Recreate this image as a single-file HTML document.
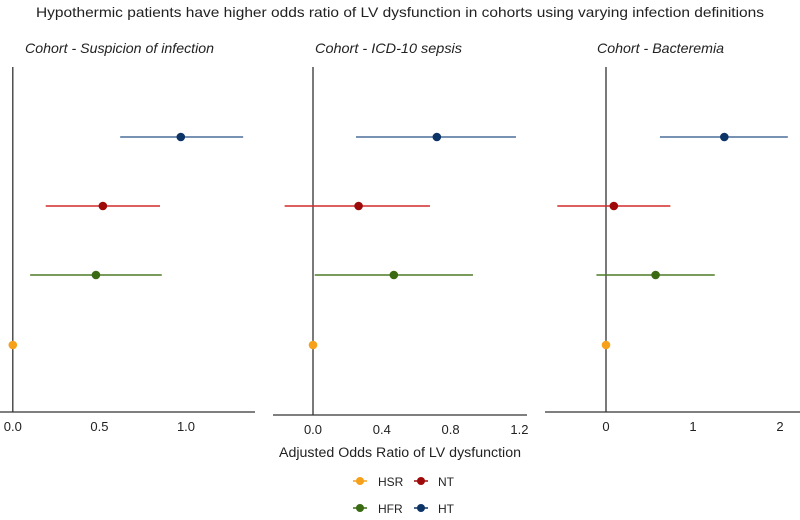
<!DOCTYPE html>
<html><head><meta charset="utf-8"><style>
body{margin:0;background:#fff}
svg text{font-family:"Liberation Sans",sans-serif;fill:#222}
</style></head><body>
<svg id="c" width="800" height="515" xmlns="http://www.w3.org/2000/svg">
<text x="400" y="17" text-anchor="middle" font-size="14" textLength="728" lengthAdjust="spacingAndGlyphs">Hypothermic patients have higher odds ratio of LV dysfunction in cohorts using varying infection definitions</text>
<text x="400" y="457" text-anchor="middle" font-size="13.5" textLength="242" lengthAdjust="spacingAndGlyphs">Adjusted Odds Ratio of LV dysfunction</text>
<g>
<g><line x1="353" x2="367" y1="481" y2="481" stroke="#f7a11a" stroke-width="1.5"/><circle cx="360" cy="481" r="4" fill="#f7a11a"/><text x="378" y="486" font-size="12">HSR</text></g>
<g><line x1="414" x2="428" y1="481" y2="481" stroke="#9e0a0a" stroke-width="1.5"/><circle cx="421" cy="481" r="4" fill="#9e0a0a"/><text x="438" y="486" font-size="12">NT</text></g>
<g><line x1="353" x2="367" y1="508" y2="508" stroke="#3a6a12" stroke-width="1.5"/><circle cx="360" cy="508" r="4" fill="#3a6a12"/><text x="378" y="513" font-size="12">HFR</text></g>
<g><line x1="414" x2="428" y1="508" y2="508" stroke="#0d3466" stroke-width="1.5"/><circle cx="421" cy="508" r="4" fill="#0d3466"/><text x="438" y="513" font-size="12">HT</text></g>
</g>
</svg>
<script>
const groups = ["HT","NT","HFR","HSR"];
const colors = ["#0d3466","#9e0a0a","#3a6a12","#f7a11a"];
const lineColors = ["#4a6f99","#d42a2a","#4d7a26","#f7a11a"];
const panelTitles = ["Cohort - Suspicion of infection","Cohort - ICD-10 sepsis","Cohort - Bacteremia"];
const est1 = [0.97,0.52,0.48,0]; const lo1 = [0.62,0.19,0.10,0]; const hi1 = [1.33,0.85,0.86,0];
const est2 = [0.72,0.265,0.47,0]; const lo2 = [0.25,-0.165,0.01,0]; const hi2 = [1.18,0.68,0.93,0];
const est3 = [1.36,0.09,0.57,0]; const lo3 = [0.62,-0.56,-0.11,0]; const hi3 = [2.09,0.74,1.25,0];
const ticks1 = [0,0.5,1.0]; const tickLabels1 = ["0.0","0.5","1.0"];
const ticks2 = [0,0.4,0.8,1.2]; const tickLabels2 = ["0.0","0.4","0.8","1.2"];
const ticks3 = [0,1,2]; const tickLabels3 = ["0","1","2"];

const svg=document.getElementById('c');
const NS="http://www.w3.org/2000/svg";
function mk(t,a){const e=document.createElementNS(NS,t);for(const k in a)e.setAttribute(k,a[k]);svg.appendChild(e);return e;}
const panels=[
 {z:12.8,s:173.2,ax0:0,ax1:255,ay:412,tx:25,tw:189,est:est1,lo:lo1,hi:hi1,ticks:ticks1,tl:tickLabels1},
 {z:313,s:172,ax0:273,ax1:527,ay:415,tx:315,tw:147,est:est2,lo:lo2,hi:hi2,ticks:ticks2,tl:tickLabels2},
 {z:606,s:87,ax0:545,ax1:800,ay:412,tx:597,tw:127,est:est3,lo:lo3,hi:hi3,ticks:ticks3,tl:tickLabels3}];
const rowY=[137,206,275,345];
function yPos(i){return rowY[i];}
panels.forEach((p,pi)=>{
 const x=v=>p.z+v*p.s;
 const t=mk('text',{x:p.tx,y:53,'font-size':14,'font-style':'italic',textLength:p.tw,lengthAdjust:'spacingAndGlyphs'});t.textContent=panelTitles[pi];
 
 
 const zl=mk('line',{x1:x(0),x2:x(0),y1:67,y2:p.ay,stroke:'#333','stroke-width':1.3});
 
 
 const al=mk('line',{x1:p.ax0,x2:p.ax1,y1:p.ay,y2:p.ay,stroke:'#333','stroke-width':1.3});
 
 
 p.ticks.forEach((v,i)=>{const tt=mk('text',{x:x(v),y:p.ay+19,'font-size':13,'text-anchor':'middle',fill:'#444'});tt.textContent=p.tl[i];
  
  });
 groups.forEach((g,i)=>{
  if(p.hi[i]!==p.lo[i]){const l=mk('line',{x1:x(p.lo[i]),x2:x(p.hi[i]),y1:yPos(i),y2:yPos(i),stroke:lineColors[i],'stroke-width':1.5});
   
   }
  const c=mk('circle',{cx:x(p.est[i]),cy:yPos(i),r:4.3,fill:colors[i]});
  
  
 });
});
</script>
</body></html>
